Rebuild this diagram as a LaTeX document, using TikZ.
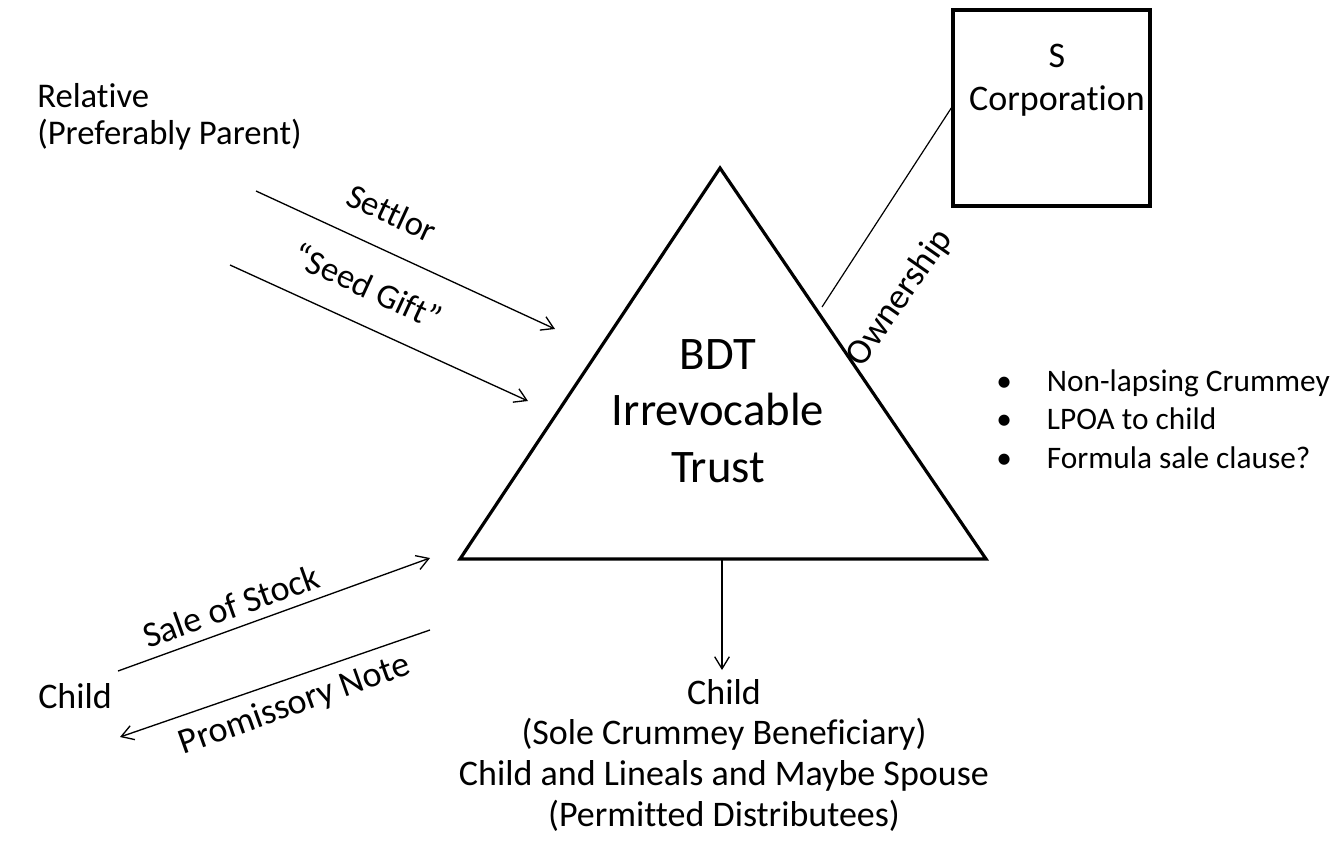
\documentclass[tikz,border=0pt]{standalone}
\usepackage{fontspec}
\setmainfont{Carlito}[Ligatures=NoCommon]
\usetikzlibrary{arrows.meta}
\begin{document}
\begin{tikzpicture}[x=0.75pt,y=-0.75pt,
  lbl/.style={inner sep=0pt,font=\fontsize{26}{30}\selectfont},
  rlbl/.style={inner sep=0pt,font=\fontsize{27}{30}\selectfont},
  mlbl/.style={inner sep=0pt,align=center,font=\fontsize{26}{30}\selectfont},
  llbl/.style={inner sep=0pt,align=left,font=\fontsize{26}{28}\selectfont},
  conn/.style={line width=1pt,-{Straight Barb[length=9pt,width=11pt,line width=1pt]}},
  plain/.style={line width=0.9pt}]
\useasboundingbox (0,0) rectangle (1333,843);
% triangle
\coordinate (tA) at (720,168);
\coordinate (tL) at (460,559);
\coordinate (tR) at (986,559);
\draw[line width=2.4pt,line join=miter] (tA) -- (tL) -- (tR) -- cycle;
\node[mlbl,font=\fontsize{35}{42.5}\selectfont] (trust) at (718,411) {BDT\\Irrevocable\\Trust};
% S corporation box
\node[draw,line width=2.6pt,minimum width=147.75pt,minimum height=147pt,inner sep=0pt] (box) at (1051.5,108) {};
\node[mlbl,font=\fontsize{27}{32}\selectfont] (scorp) at (1057,80) {S\\Corporation};
\coordinate (own1) at (822,307);
\draw[plain] (own1) -- (box.west);
\node[rlbl,rotate=55] (ownl) at (900,298) {Ownership};
% relative
\node[llbl,anchor=north west] (rel) at (37,83) {Relative\\(Preferably Parent)};
% settlor arrows
\coordinate (s1a) at (256,191); \coordinate (s1b) at (555,329);
\coordinate (s2a) at (230,265); \coordinate (s2b) at (528,401);
\draw[conn] (s1a) -- (s1b);
\draw[conn] (s2a) -- (s2b);
\node[lbl,rotate=-24.8] (settlor) at (392,213) {Settlor};
\node[lbl,rotate=-24.8] (seed) at (368,286) {“Seed Gift”};
% child left
\node[rlbl,anchor=base west] (childl) at (38,708) {Child};
\coordinate (sa) at (118,671); \coordinate (sb) at (430,558);
\coordinate (pa) at (430,630); \coordinate (pb) at (120,737);
\draw[conn] (sa) -- (sb);
\draw[conn] (pa) -- (pb);
\node[rlbl,rotate=19.7] (sale) at (231,606) {Sale of Stock};
\node[rlbl,rotate=19.7] (prom) at (295,705) {Promissory Note};
% down arrow
\coordinate (d1) at (722,559); \coordinate (d2) at (722,670);
\draw[conn] (d1) -- (d2);
\node[mlbl,anchor=north,font=\fontsize{27}{30.5}\selectfont] (bene) at (724,679) {Child\\(Sole Crummey Beneficiary)\\Child and Lineals and Maybe Spouse\\(Permitted Distributees)};
% bullets
\node[inner sep=0pt,anchor=north west,align=left,font=\fontsize{23.5}{29}\selectfont] (bul) at (996,369) {%
\makebox[38pt][l]{\textbullet}Non-lapsing Crummey\\
\makebox[38pt][l]{\textbullet}LPOA to child\\
\makebox[38pt][l]{\textbullet}Formula sale clause?};
\end{tikzpicture}
\end{document}
